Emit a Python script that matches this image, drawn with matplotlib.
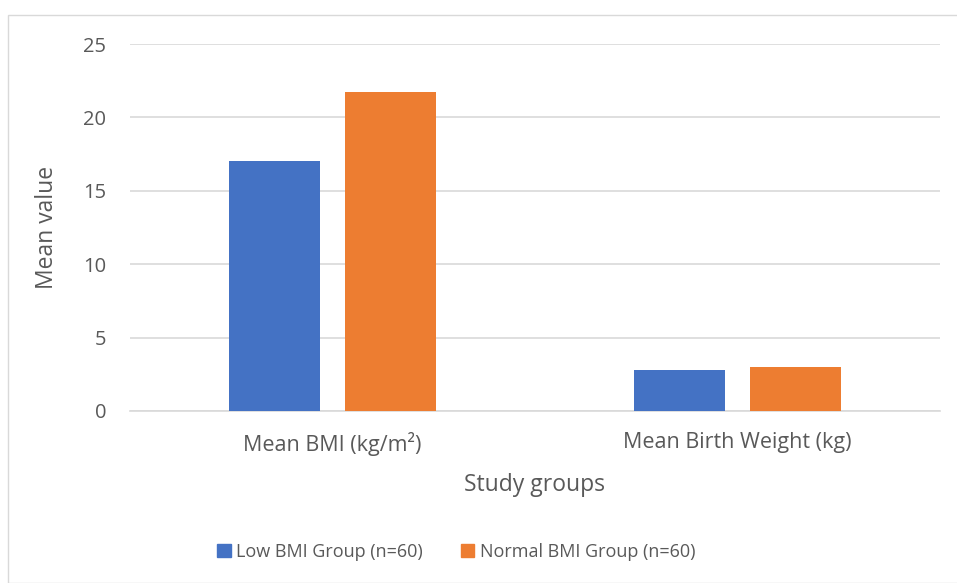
import numpy as np
import matplotlib
matplotlib.use("Agg")
import matplotlib.pyplot as plt
from matplotlib.patches import Rectangle, Patch

categories = ["Mean BMI (kg/m\u00b2)", "Mean Birth Weight (kg)"]
low_bmi = [17.0, 2.8]
normal_bmi = [21.7, 3.0]
series_names = ["Low BMI Group (n=60)", "Normal BMI Group (n=60)"]
y_ticks = [0, 5, 10, 15, 20, 25]

BLUE = "#4472C4"
ORANGE = "#ED7D31"
TEXT = "#595959"
GRID = "#D9D9D9"

plt.rcParams["font.family"] = ["Open Sans", "DejaVu Sans"]

fig = plt.figure(figsize=(9.57, 5.83), dpi=100)
# thin frame around the chart area
fig.patches.append(Rectangle((8 / 957, 0), 1, 1 - 15 / 583, transform=fig.transFigure,
                             fill=False, edgecolor=GRID, linewidth=1))

ax = fig.add_axes([130 / 957, 1 - 411 / 583, 810 / 957, 367 / 583])
x = np.arange(len(categories))
width = 0.225
offset = 0.1425
ax.bar(x - offset, low_bmi, width, color=BLUE, zorder=3)
ax.bar(x + offset, normal_bmi, width, color=ORANGE, zorder=3)

ax.set_xlim(-0.5, 1.5)
ax.set_ylim(0, 25)
ax.set_yticks(y_ticks)
ax.set_xticks(x)
ax.set_xticklabels(categories)
ax.yaxis.grid(True, color=GRID, linewidth=1.2, zorder=0)
ax.tick_params(axis="both", length=0, labelcolor=TEXT)
ax.tick_params(axis="y", pad=17, labelsize=14.5)
ax.tick_params(axis="x", pad=15, labelsize=15.5)
for side in ["left", "right", "top"]:
    ax.spines[side].set_visible(False)
ax.spines["bottom"].set_color(GRID)
ax.spines["bottom"].set_linewidth(1.2)

ax.set_xlabel("Study groups", fontsize=16.5, color=TEXT)
ax.set_ylabel("Mean value", fontsize=16.5, color=TEXT)
ax.xaxis.set_label_coords(0.5, -0.168)
ax.yaxis.set_label_coords(-0.088, 0.5)

handles = [Patch(color=BLUE, label=series_names[0]),
           Patch(color=ORANGE, label=series_names[1])]
fig.legend(handles=handles, loc="center", bbox_to_anchor=(456 / 957, 1 - 552 / 583),
           ncol=2, frameon=False, fontsize=13, labelcolor=TEXT,
           handlelength=0.77, handleheight=0.77, handletextpad=0.3, columnspacing=2.1)

fig.savefig("out.png", dpi=100)
